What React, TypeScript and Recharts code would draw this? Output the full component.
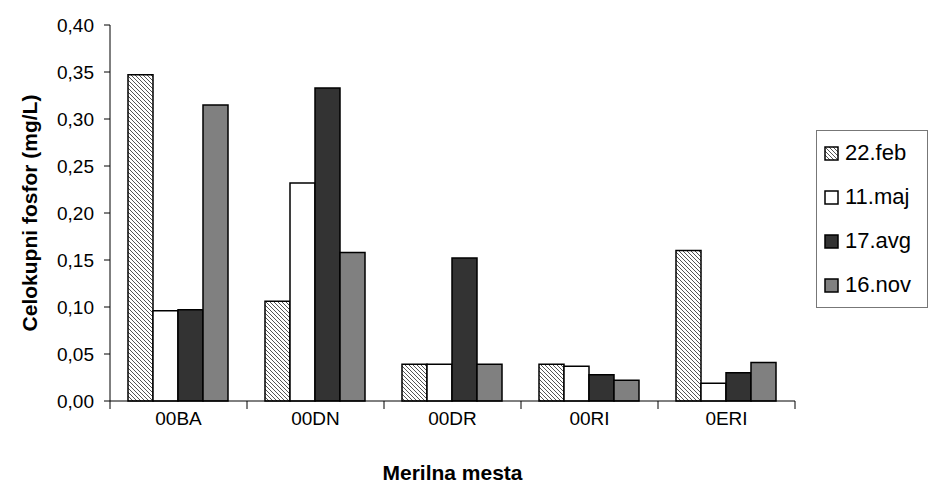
import React from "react";
import { BarChart, Bar, XAxis, YAxis, Legend } from "recharts";

const SITES = ["00BA", "00DN", "00DR", "00RI", "0ERI"];
const FEB = [0.347, 0.106, 0.039, 0.039, 0.16];
const MAJ = [0.096, 0.232, 0.039, 0.037, 0.019];
const AVG = [0.097, 0.333, 0.152, 0.028, 0.03];
const NOV = [0.315, 0.158, 0.039, 0.022, 0.041];
const Y_TICKS = [0, 0.05, 0.1, 0.15, 0.2, 0.25, 0.3, 0.35, 0.4];

const data = SITES.map((site, i) => ({
  site,
  feb: FEB[i],
  maj: MAJ[i],
  avg: AVG[i],
  nov: NOV[i],
}));

const FONT = "'Liberation Sans', Arial, sans-serif";

const SERIES = [
  { key: "feb", name: "22.feb", fill: "url(#hatch)" },
  { key: "maj", name: "11.maj", fill: "#ffffff" },
  { key: "avg", name: "17.avg", fill: "#333333" },
  { key: "nov", name: "16.nov", fill: "#808080" },
];

const fmt = (v: number) => v.toFixed(2).replace(".", ",");

// label in the middle of the band, tick marks on the band edges
function SiteTick(props: any) {
  const { x, y, payload } = props;
  const half = payload.offset ?? 0;
  const last = payload.value === SITES[SITES.length - 1];
  return (
    <g>
      <line x1={x - half} x2={x - half} y1={y - 8} y2={y} stroke="#000" strokeWidth={1} />
      {last && <line x1={x + half} x2={x + half} y1={y - 8} y2={y} stroke="#000" strokeWidth={1} />}
      <text x={x} y={y + 3} dy="0.71em" textAnchor="middle" fontSize={19} fontFamily={FONT} fill="#000">
        {payload.value}
      </text>
    </g>
  );
}

function HatchDef({ id }: { id: string }) {
  return (
    <pattern id={id} width={4} height={4} patternUnits="userSpaceOnUse">
      <rect width={4} height={4} fill="#fff" />
      <path d="M-1,-1 L5,5 M-1,3 L1,5 M3,-1 L5,1" stroke="#555" strokeWidth={1} />
    </pattern>
  );
}

function LegendBox() {
  return (
    <div
      style={{
        border: "1px solid #777",
        width: 112,
        height: 178,
        padding: "0 0 0 7px",
        background: "#fff",
        fontFamily: FONT,
        fontSize: 22,
        boxSizing: "border-box",
      }}
    >
      {SERIES.map((s) => (
        <div key={s.key} style={{ display: "flex", alignItems: "center", height: 44, whiteSpace: "nowrap" }}>
          <svg width={17} height={15} style={{ marginRight: 4, flex: "none" }}>
            <defs>
              <HatchDef id={`lg-${s.key}`} />
            </defs>
            <rect
              x={1}
              y={1}
              width={13}
              height={13}
              fill={s.key === "feb" ? `url(#lg-${s.key})` : s.fill}
              stroke="#000"
              strokeWidth={1.5}
            />
          </svg>
          <span>{s.name}</span>
        </div>
      ))}
    </div>
  );
}

export default function App() {
  return (
    <div style={{ position: "absolute", left: 0, top: 0, width: 930, height: 495, background: "#fff" }}>
      <BarChart
        width={930}
        height={495}
        data={data}
        margin={{ top: 25, right: 135, left: 0, bottom: 0 }}
        barGap={0}
        barCategoryGap={18}
      >
        <defs>
          <HatchDef id="hatch" />
        </defs>
        <XAxis
          dataKey="site"
          height={94}
          interval={0}
          axisLine={{ stroke: "#000" }}
          tickLine={false}
          tickSize={8}
          tickMargin={0}
          tick={<SiteTick />}
          label={{
            value: "Merilna mesta",
            position: "insideBottom",
            offset: 15,
            style: { fontFamily: FONT, fontSize: 21, fontWeight: "bold", fill: "#000" },
          }}
        />
        <YAxis
          width={110}
          domain={[0, 0.4]}
          ticks={Y_TICKS}
          interval={0}
          tickFormatter={fmt}
          axisLine={{ stroke: "#000" }}
          tickLine={{ stroke: "#000" }}
          tickSize={6}
          tickMargin={10}
          tick={{ fontFamily: FONT, fontSize: 19, fill: "#000" }}
          label={{
            value: "Celokupni fosfor (mg/L)",
            angle: -90,
            position: "insideLeft",
            offset: 30,
            style: { textAnchor: "middle", fontFamily: FONT, fontSize: 21, fontWeight: "bold", fill: "#000" },
          }}
        />
        <Legend
          layout="vertical"
          align="center"
          verticalAlign="middle"
          wrapperStyle={{ left: 816, top: 130, width: 112 }}
          content={<LegendBox />}
        />
        {SERIES.map((s) => (
          <Bar
            key={s.key}
            dataKey={s.key}
            name={s.name}
            fill={s.fill}
            stroke="#000"
            strokeWidth={1.5}
            isAnimationActive={false}
          />
        ))}
      </BarChart>
    </div>
  );
}
